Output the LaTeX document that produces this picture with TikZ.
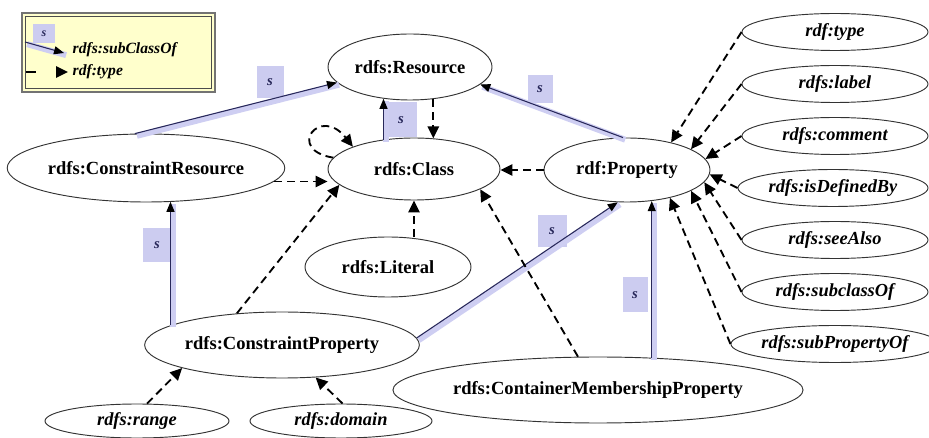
\documentclass[tikz,border=0pt]{standalone}
\usepackage{fontspec}
\setmainfont{Liberation Serif}
\usetikzlibrary{shapes.geometric,arrows.meta}
\definecolor{bandc}{RGB}{206,206,242}
\definecolor{sboxc}{RGB}{204,204,240}
\definecolor{subc}{RGB}{40,40,90}
\definecolor{legc}{RGB}{255,255,204}
\begin{document}
\begin{tikzpicture}[x=0.75pt,y=-0.75pt,
  el/.style 2 args={ellipse, draw=black!80, line width=0.7pt, fill=white, inner sep=0pt,
    minimum width=#1*0.75pt, minimum height=#2*0.75pt},
  bnode/.style={font=\fontsize{13.9}{16}\selectfont\bfseries},
  inode/.style={font=\fontsize{13.8}{16}\selectfont\bfseries\itshape},
  sbox/.style={fill=sboxc, inner sep=0pt, minimum width=27*0.75pt, minimum height=32*0.75pt,
    font=\fontsize{11}{12}\selectfont\bfseries\itshape, text=subc},
  subarrow/.style={draw=subc, line width=0.8pt, -{Triangle[length=7.5pt,width=6pt,color=black]},
    preaction={draw=bandc, line width=4.5pt, -, transform canvas={shift={(1.6pt,-1.6pt)}}}},
  typarrow/.style={draw=black, line width=1.4pt, dash pattern=on 6pt off 3.75pt,
    -{Triangle[length=9pt,width=8.5pt]}}
]
\useasboundingbox (0,0) rectangle (929,438);

% legend
\draw[line width=1.2pt, draw=black!55, fill=legc] (22,13) rectangle (215,92);
\draw[line width=0.5pt, draw=black!70] (25.5,16.5) rectangle (211.5,88.5);
\node[sbox, minimum width=22*0.75pt, minimum height=19*0.75pt, font=\fontsize{9}{10}\selectfont\bfseries\itshape] (lsb) at (44,34) {s};
\coordinate (l1a) at (25,42);
\coordinate (l1b) at (64,53);
\draw[subarrow] (l1a) -- (l1b);
\node[anchor=west, font=\fontsize{11.7}{14}\selectfont\bfseries\itshape] (lt1) at (68,50) {rdfs:subClassOf};
\coordinate (l2a) at (26,72);
\coordinate (l2b) at (68,72);
\draw[typarrow, dash pattern=on 7.5pt off 30pt] (l2a) -- (l2b);
\node[anchor=west, font=\fontsize{11.7}{14}\selectfont\bfseries\itshape] (lt2) at (68,72) {rdf:type};

% classes and properties
\node[el={164}{66}, bnode] (res) at (410,67) {rdfs:Resource};
\node[el={172}{62}, bnode] (cls) at (414,169) {rdfs:Class};
\node[el={266}{68}, bnode] (cr) at (146,168) {rdfs:ConstraintResource};
\node[el={166}{64}, bnode] (prop) at (627,170) {rdf:Property};
\node[el={166}{60}, bnode] (lit) at (388,267) {rdfs:Literal};
\node[el={266}{66}, bnode] (cp) at (282,345) {rdfs:ConstraintProperty};
\node[el={330}{66}, bnode] (cmp) at (598,390) {rdfs:ContainerMembershipProperty};
\node[el={184}{34}, inode] (rng) at (137,421) {rdfs:range};
\node[el={182}{34}, inode] (dom) at (341,421) {rdfs:domain};

\node[el={186}{37}, inode] (ty)  at (835,32)  {rdf:type};
\node[el={186}{37}, inode] (lab) at (835,84)  {rdfs:label};
\node[el={186}{37}, inode] (com) at (835,136) {rdfs:comment};
\node[el={190}{37}, inode] (idb) at (833,188) {rdfs:isDefinedBy};
\node[el={186}{37}, inode] (see) at (835,240) {rdfs:seeAlso};
\node[el={186}{37}, inode] (sco) at (835,292) {rdfs:subclassOf};
\node[el={186}{37}, inode] (spo) at (835,344) {rdfs:subPropertyOf};

% subclass labels
\node[sbox] (s1) at (270,82) {s};
\node[sbox, minimum width=31*0.75pt, minimum height=35*0.75pt] (s2) at (401,120) {s};
\node[sbox, minimum width=25*0.75pt, minimum height=28*0.75pt] (s3) at (540,89) {s};
\node[sbox, minimum width=29*0.75pt, minimum height=34*0.75pt] (s4) at (157,245) {s};
\node[sbox, minimum width=29*0.75pt] (s5) at (552,231) {s};
\node[sbox, minimum width=25*0.75pt, minimum height=35*0.75pt] (s6) at (635,295) {s};

% subClassOf edges
\draw[subarrow] (cr.108) -- (res.192);
\draw[subarrow] (cls.136) -- (res.231.5 -| cls.136);
\draw[subarrow] (prop.97) -- (res.-14);
\draw[subarrow] (cp.170) -- (cp.170 |- cr.-51);
\draw[subarrow] (cp.3) -- (prop.-106);
\draw[subarrow] (cmp.31) -- (cmp.31 |- prop.-53);

% type edges
\draw[typarrow] (res.-54) -- (res.-54 |- cls.57);
\draw[typarrow] (prop.west) -- (prop.west -| cls.east);
\draw[typarrow] (cr.-6) -- (cr.-6 -| cls.west);
\draw[typarrow] (cls.172) .. controls (285,150) and (320,105) .. (cls.160);
\draw[typarrow] (cp.145) -- (cls.192);
\draw[typarrow] (lit.north -| cls.south) -- (cls.south);
\draw[typarrow] (cmp.121) -- (cls.-17);
\draw[typarrow] (rng.60) -- (cp.193);
\draw[typarrow] (dom.85) -- (cp.-44);

\draw[typarrow] (ty.west)  -- (prop.32);
\draw[typarrow] (lab.west) -- (prop.18);
\draw[typarrow] (com.west) -- (prop.8);
\draw[typarrow] (idb.west) -- (prop.-3);
\draw[typarrow] (see.west) -- (prop.-9);
\draw[typarrow] (sco.west) -- (prop.-18);
\draw[typarrow] (spo.west) -- (prop.-33);
\end{tikzpicture}
\end{document}
